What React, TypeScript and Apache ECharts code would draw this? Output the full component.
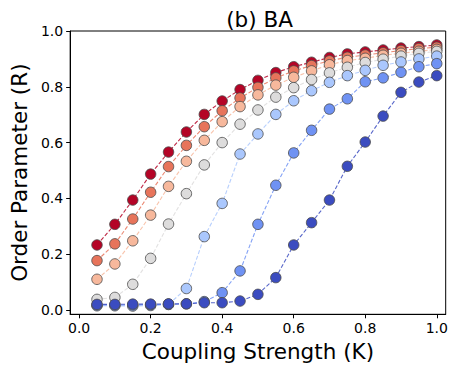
import React, { useEffect, useRef } from "react";
import * as echarts from "echarts";

const couplingK = [0.05, 0.1, 0.15, 0.2, 0.25, 0.3, 0.35, 0.4, 0.45, 0.5, 0.55, 0.6, 0.65, 0.7, 0.75, 0.8, 0.85, 0.9, 0.95, 1.0];

const seriesDarkRed = [0.233, 0.307, 0.394, 0.487, 0.566, 0.638, 0.701, 0.749, 0.790, 0.823, 0.851, 0.872, 0.888, 0.905, 0.918, 0.925, 0.932, 0.939, 0.944, 0.950];
const seriesOrange = [0.177, 0.237, 0.326, 0.422, 0.514, 0.590, 0.657, 0.714, 0.760, 0.798, 0.832, 0.857, 0.876, 0.893, 0.906, 0.914, 0.922, 0.930, 0.937, 0.942];
const seriesSalmon = [0.110, 0.165, 0.248, 0.340, 0.443, 0.533, 0.608, 0.675, 0.729, 0.771, 0.806, 0.834, 0.857, 0.879, 0.894, 0.902, 0.913, 0.920, 0.927, 0.934];
const seriesGray = [0.038, 0.045, 0.092, 0.185, 0.308, 0.417, 0.520, 0.600, 0.666, 0.717, 0.763, 0.797, 0.826, 0.850, 0.870, 0.887, 0.899, 0.910, 0.920, 0.927];
const seriesLightBlue = [0.015, 0.015, 0.014, 0.016, 0.020, 0.077, 0.263, 0.382, 0.559, 0.631, 0.701, 0.750, 0.786, 0.816, 0.840, 0.859, 0.877, 0.889, 0.900, 0.910];
const seriesMidBlue = [0.018, 0.018, 0.018, 0.019, 0.020, 0.022, 0.030, 0.062, 0.140, 0.307, 0.447, 0.563, 0.644, 0.720, 0.757, 0.818, 0.832, 0.852, 0.872, 0.883];
const seriesDarkBlue = [0.020, 0.020, 0.021, 0.021, 0.022, 0.022, 0.026, 0.026, 0.032, 0.056, 0.116, 0.233, 0.313, 0.394, 0.515, 0.602, 0.695, 0.780, 0.817, 0.840];

const seriesList = [seriesDarkRed, seriesOrange, seriesSalmon, seriesGray, seriesLightBlue, seriesMidBlue, seriesDarkBlue];
const seriesColors = ["#b40426", "#e7745b", "#f7b89c", "#dddcdc", "#aac7fd", "#6f92f3", "#3b4cc0"];

const tickValues = [0, 0.2, 0.4, 0.6, 0.8, 1.0];

const titleText = "(b) BA";
const xName = "Coupling Strength (K)";
const yName = "Order Parameter (R)";

const FONT = "DejaVu Sans";

export default function App() {
  const ref = useRef<HTMLDivElement>(null);
  useEffect(() => {
    if (!ref.current) return;
    const chart = echarts.init(ref.current, null, { renderer: "svg" });
    const axisCommon = {
      axisLine: { show: true, onZero: false, lineStyle: { color: "#000", width: 1 } },
      axisTick: { show: true, inside: false, length: 4, customValues: tickValues, lineStyle: { color: "#000", width: 1 } },
      axisLabel: {
        show: true,
        customValues: tickValues,
        formatter: (v: number) => v.toFixed(1),
        fontFamily: FONT,
        fontSize: 14,
        color: "#000",
        margin: 7,
      },
      splitLine: { show: false },
      nameLocation: "middle" as const,
      nameTextStyle: { fontFamily: FONT, fontSize: 21.5, color: "#000" },
    };
    chart.setOption({
      animation: false,
      backgroundColor: "#fff",
      title: {
        text: titleText,
        left: 254.5,
        textAlign: "center",
        top: 3,
        textStyle: { fontFamily: FONT, fontSize: 21.5, fontWeight: "normal", color: "#000" },
      },
      grid: { left: 63, right: 12.3, top: 31, bottom: 55.7, containLabel: false, show: true, borderColor: "#000", borderWidth: 1, backgroundColor: "transparent" },
      xAxis: {
        type: "value",
        min: -0.025,
        max: 1.025,
        name: xName,
        nameGap: 21,
        ...axisCommon,
      },
      yAxis: {
        type: "value",
        min: -0.0155,
        max: 1.0,
        name: yName,
        nameGap: 36,
        ...axisCommon,
      },
      series: seriesList.map((vals, i) => ({
        type: "line",
        data: couplingK.map((k, j) => [k, vals[j]]),
        symbol: "circle",
        symbolSize: 10.5,
        showSymbol: true,
        itemStyle: { color: seriesColors[i], borderColor: "#4a4a4a", borderWidth: 0.8 },
        lineStyle: { color: seriesColors[i], width: 1.1, type: [4, 2], opacity: 0.85 },
        z: 2 + i,
      })),
    });
    return () => chart.dispose();
  }, []);
  return <div ref={ref} style={{ width: 458, height: 370, position: "absolute", left: 0, top: 0 }} />;
}
